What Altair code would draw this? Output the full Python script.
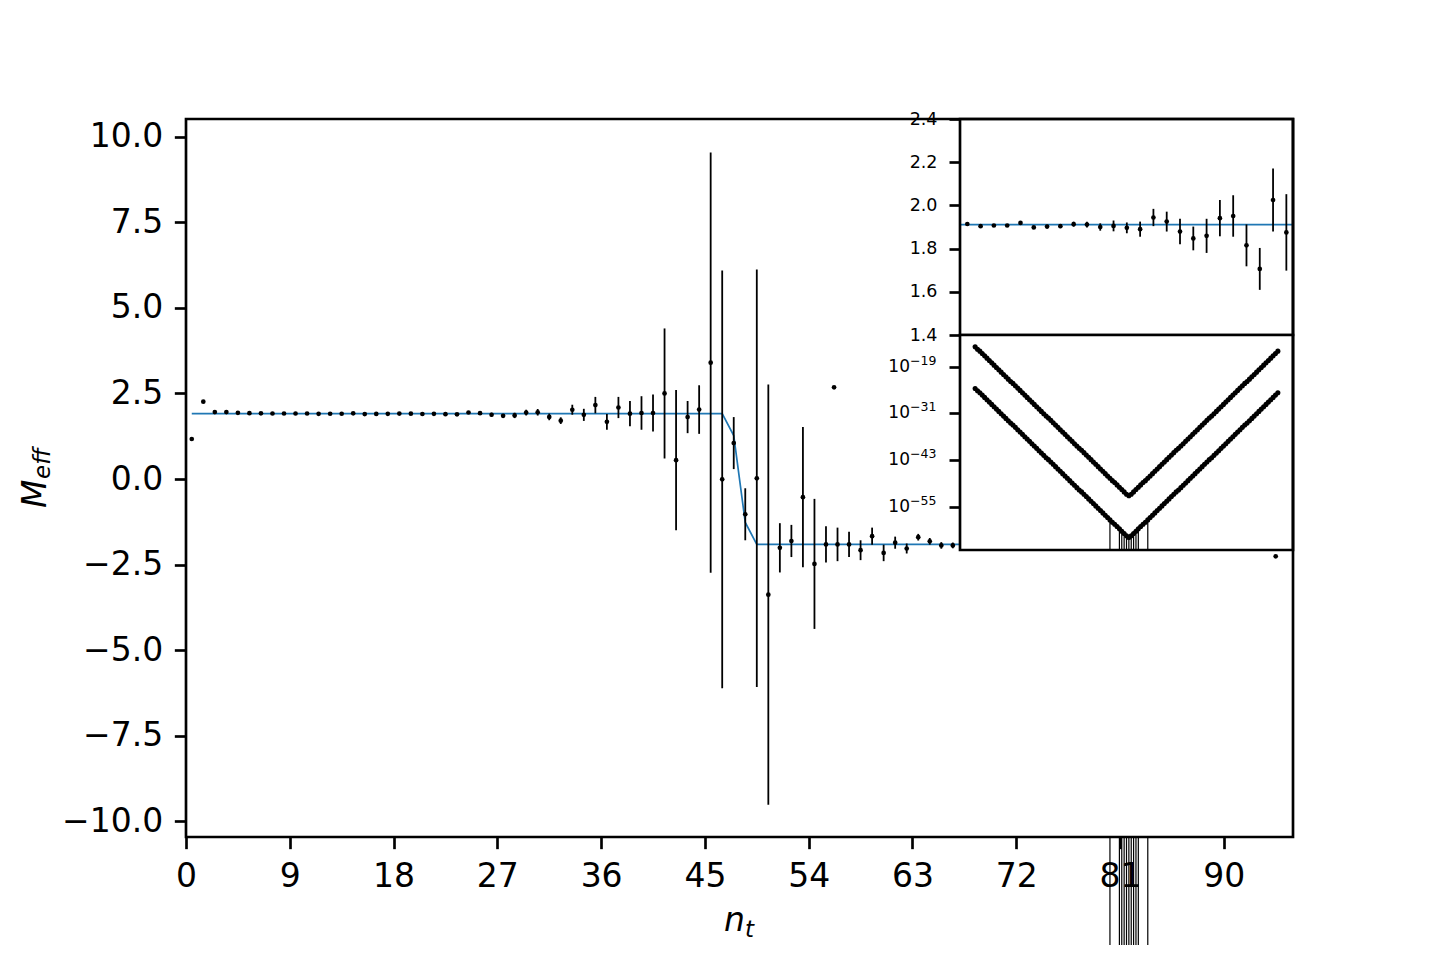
import altair as alt
import pandas as pd

# ---------------- data ----------------
# main panel: effective mass vs n_t (points sit at n_t + 0.5)
meff_val = [1.17, 2.26, 1.955, 1.955, 1.935, 1.925, 1.92, 1.915, 1.915, 1.915,
            1.914, 1.904, 1.907, 1.907, 1.919, 1.898, 1.902, 1.904, 1.913, 1.911,
            1.900, 1.905, 1.896, 1.890, 1.944, 1.925, 1.879, 1.847, 1.859, 1.941,
            1.951, 1.815, 1.706, 2.025, 1.875, 2.16, 1.67, 2.09, 1.91, 1.93,
            1.93, 2.50, 0.55, 1.81, 2.03, 3.40, -0.01, 1.05, -1.03, 0.02,
            -3.38, -2.01, -1.81, -0.53, -2.48, -1.91, -1.91, -1.91, -2.08, -1.67,
            -2.16, -1.86, -2.03, -1.70, -1.82, -1.94, -1.94, -1.859, -1.847, -1.879,
            -1.925, -1.944, -1.890, -1.896, -1.905, -1.900, -1.911, -1.913, -1.904, -1.902,
            -1.898, -1.919, -1.907, -1.907, -1.904, -1.914, -1.915, -1.915, -1.915, -1.92,
            -1.925, -1.935, -1.955, -1.955, -2.26, -1.17]
meff_err = [0.003, 0.004, 0.003, 0.003, 0.003, 0.003, 0.003, 0.003, 0.004, 0.004,
            0.004, 0.004, 0.004, 0.005, 0.006, 0.007, 0.008, 0.009, 0.0115, 0.013,
            0.017, 0.025, 0.025, 0.035, 0.040, 0.046, 0.059, 0.055, 0.079, 0.084,
            0.096, 0.097, 0.097, 0.146, 0.177, 0.24, 0.23, 0.31, 0.37, 0.49,
            0.54, 1.90, 2.05, 0.47, 0.71, 6.14, 6.10, 0.76, 0.76, 6.10,
            6.14, 0.72, 0.47, 2.05, 1.90, 0.53, 0.49, 0.37, 0.29, 0.25,
            0.24, 0.177, 0.146, 0.097, 0.097, 0.096, 0.084, 0.079, 0.055, 0.059,
            0.046, 0.040, 0.035, 0.025, 0.025, 0.017, 0.013, 0.0115, 0.009, 0.008,
            0.007, 0.006, 0.005, 0.004, 0.004, 0.004, 0.004, 0.004, 0.003, 0.003,
            0.003, 0.003, 0.003, 0.003, 0.004, 0.003]
fit_x = [0.5, 46.5, 47.5, 48.5, 49.5, 95.5]
fit_y = [1.911, 1.911, 1.27, -1.27, -1.911, -1.911]
stray_x = [56.2]          # inset marker that spills into the main panel
stray_y = [2.68]

x_ticks = [0, 9, 18, 27, 36, 45, 54, 63, 72, 81, 90]
y_ticks = [-10.0, -7.5, -5.0, -2.5, 0.0, 2.5, 5.0, 7.5, 10.0]

# inset 1: zoom on the plateau (points 10..34 of the main series)
inset1_first, inset1_last = 10, 34
inset1_ticks = [1.4, 1.6, 1.8, 2.0, 2.2, 2.4]

# inset 2: correlators, log10 values, t = 0..128
corr_upper_log = [
    -13.9, -14.5, -15.0, -15.6, -16.2, -16.8, -17.4, -18.0, -18.6, -19.2,
    -19.8, -20.4, -21.0, -21.6, -22.2, -22.8, -23.3, -23.9, -24.5, -25.1,
    -25.7, -26.3, -26.9, -27.5, -28.1, -28.7, -29.3, -29.9, -30.5, -31.1,
    -31.7, -32.2, -32.8, -33.4, -34.0, -34.6, -35.2, -35.8, -36.4, -37.0,
    -37.6, -38.2, -38.8, -39.4, -40.0, -40.5, -41.1, -41.7, -42.3, -42.9,
    -43.5, -44.1, -44.7, -45.3, -45.9, -46.5, -47.1, -47.7, -48.3, -48.8,
    -49.4, -50.0, -50.6, -51.2, -51.8, -52.2,
    -51.8, -51.2, -50.6, -50.0, -49.4, -48.8, -48.3, -47.7, -47.1, -46.5,
    -45.9, -45.3, -44.7, -44.1, -43.5, -42.9, -42.3, -41.7, -41.1, -40.5,
    -40.0, -39.4, -38.8, -38.2, -37.6, -37.0, -36.4, -35.8, -35.2, -34.6,
    -34.0, -33.4, -32.8, -32.2, -31.7, -31.1, -30.5, -29.9, -29.3, -28.7,
    -28.1, -27.5, -26.9, -26.3, -25.7, -25.1, -24.5, -23.9, -23.3, -22.8,
    -22.2, -21.6, -21.0, -20.4, -19.8, -19.2, -18.6, -18.0, -17.4, -16.8,
    -16.2, -15.6, -15.0]
corr_lower_log = [
    -24.6, -25.2, -25.7, -26.3, -26.9, -27.5, -28.1, -28.7, -29.3, -29.9,
    -30.5, -31.1, -31.7, -32.3, -32.9, -33.5, -34.0, -34.6, -35.2, -35.8,
    -36.4, -37.0, -37.6, -38.2, -38.8, -39.4, -40.0, -40.6, -41.2, -41.8,
    -42.4, -42.9, -43.5, -44.1, -44.7, -45.3, -45.9, -46.5, -47.1, -47.7,
    -48.3, -48.9, -49.5, -50.1, -50.7, -51.2, -51.8, -52.4, -53.0, -53.6,
    -54.2, -54.8, -55.4, -56.0, -56.6, -57.2, -57.8, -58.4, -59.0, -59.5,
    -60.1, -60.7, -61.3, -61.9, -62.5, -62.9,
    -62.5, -61.9, -61.3, -60.7, -60.1, -59.5, -59.0, -58.4, -57.8, -57.2,
    -56.6, -56.0, -55.4, -54.8, -54.2, -53.6, -53.0, -52.4, -51.8, -51.2,
    -50.7, -50.1, -49.5, -48.9, -48.3, -47.7, -47.1, -46.5, -45.9, -45.3,
    -44.7, -44.1, -43.5, -42.9, -42.4, -41.8, -41.2, -40.6, -40.0, -39.4,
    -38.8, -38.2, -37.6, -37.0, -36.4, -35.8, -35.2, -34.6, -34.0, -33.5,
    -32.9, -32.3, -31.7, -31.1, -30.5, -29.9, -29.3, -28.7, -28.1, -27.5,
    -26.9, -26.3, -25.7]
eb_t = [57, 61, 62, 63, 64, 65, 66, 67, 68, 69, 73]
eb_err_log = [-58.1, -60.4, -61.0, -61.6, -62.2, -62.6, -62.2, -61.6, -61.0, -60.4, -58.1]
log_tick_exp = [-19, -31, -43, -55]

# ---------------- layout / style ----------------
W, H = 1107, 718
X_DOM = [0, 96]
Y_DOM = [-10.46, 10.52]
IN_X0 = 774
IN1_XDOM = [9.95, 35.0]
IN1_YDOM = [1.4, 2.4]
IN1_YR = [216, 0]
IN2_XDOM = [-6.4, 134.4]
IN2_YDOM = [10 ** -66.14, 10 ** -10.85]
IN2_YR = [431, 216]
FONT = "DejaVu Sans"
BLUE = "#1f77b4"
ORANGE = "#ff7f0e"
LW = 2.67
DOT = 22
EBW = 1.8

# ---------------- frames ----------------
main_df = pd.DataFrame({
    "x": [i + 0.5 for i in range(len(meff_val))],
    "y": meff_val,
    "err": meff_err,
})
main_df["lo"] = main_df["y"] - main_df["err"]
main_df["hi"] = main_df["y"] + main_df["err"]
fit_df = pd.DataFrame({"x": fit_x, "y": fit_y})
stray_df = pd.DataFrame({"x": stray_x, "y": stray_y})


def box(xd, yd):
    return pd.DataFrame({"x0": [xd[0]], "x1": [xd[1]], "y0": [yd[0]], "y1": [yd[1]]})


# ---------------- main panel ----------------
xs = alt.Scale(domain=X_DOM, nice=False, zero=False)
ys = alt.Scale(domain=Y_DOM, nice=False, zero=False)
ax_x = alt.Axis(values=x_ticks, title=None, domain=False, grid=False, format="d",
                tickSize=11.67, tickWidth=LW, tickColor="black",
                labelFont=FONT, labelFontSize=33, labelColor="black",
                labelPadding=11.67, labelFlush=False, orient="bottom")
ax_y = alt.Axis(values=y_ticks, title=None, domain=False, grid=False, format=".1f",
                tickSize=11.67, tickWidth=LW, tickColor="black",
                labelFont=FONT, labelFontSize=33, labelColor="black",
                labelPadding=11.67, labelFlush=False, orient="left")

main_bg = alt.Chart(box(X_DOM, Y_DOM)).mark_rect(color="white").encode(
    x=alt.X("x0:Q", scale=xs, axis=ax_x), x2="x1:Q",
    y=alt.Y("y0:Q", scale=ys, axis=ax_y), y2="y1:Q")
main_line = alt.Chart(fit_df).mark_line(color=BLUE, strokeWidth=1.7).encode(
    x=alt.X("x:Q", scale=xs, axis=ax_x), y=alt.Y("y:Q", scale=ys, axis=ax_y))
main_err = alt.Chart(main_df).mark_rule(color="black", strokeWidth=EBW).encode(
    x=alt.X("x:Q", scale=xs, axis=ax_x),
    y=alt.Y("lo:Q", scale=ys, axis=ax_y), y2="hi:Q")
main_pts = alt.Chart(main_df).mark_circle(color="black", size=DOT, opacity=1).encode(
    x=alt.X("x:Q", scale=xs, axis=ax_x), y=alt.Y("y:Q", scale=ys, axis=ax_y))
stray_pts = alt.Chart(stray_df).mark_circle(color="black", size=DOT, opacity=1).encode(
    x=alt.X("x:Q", scale=xs, axis=ax_x), y=alt.Y("y:Q", scale=ys, axis=ax_y))
main_layer = alt.layer(main_bg, main_line, main_err, main_pts, stray_pts)

# ---------------- inset 1 ----------------
in1_df = main_df.iloc[inset1_first:inset1_last + 1]
in1_fit = fit_df[fit_df["y"] > 1.5]
xs1 = alt.Scale(domain=IN1_XDOM, range=[IN_X0, W], nice=False, zero=False, clamp=True)
ys1 = alt.Scale(domain=IN1_YDOM, range=IN1_YR, nice=False, zero=False)
ax_y1 = alt.Axis(values=inset1_ticks, format=".1f", title=None, domain=False, grid=False,
                 orient="left", offset=-IN_X0, tickSize=11, tickWidth=LW, tickColor="black",
                 labelFont=FONT, labelFontSize=17.5, labelColor="black", labelPadding=12,
                 labelFlush=False, zindex=1)
in1_bg = alt.Chart(box(IN1_XDOM, IN1_YDOM)).mark_rect(color="white").encode(
    x=alt.X("x0:Q", scale=xs1, axis=None), x2="x1:Q",
    y=alt.Y("y0:Q", scale=ys1, axis=ax_y1), y2="y1:Q")
in1_line = alt.Chart(in1_fit).mark_line(color=BLUE, strokeWidth=1.7).encode(
    x=alt.X("x:Q", scale=xs1, axis=None), y=alt.Y("y:Q", scale=ys1, axis=ax_y1))
in1_err = alt.Chart(in1_df).mark_rule(color="black", strokeWidth=EBW).encode(
    x=alt.X("x:Q", scale=xs1, axis=None),
    y=alt.Y("lo:Q", scale=ys1, axis=ax_y1), y2="hi:Q")
in1_pts = alt.Chart(in1_df).mark_circle(color="black", size=DOT, opacity=1).encode(
    x=alt.X("x:Q", scale=xs1, axis=None), y=alt.Y("y:Q", scale=ys1, axis=ax_y1))
in1_frame = alt.Chart(box(IN1_XDOM, IN1_YDOM)).mark_rect(
    filled=False, stroke="black", strokeWidth=LW).encode(
    x=alt.X("x0:Q", scale=xs1, axis=None), x2="x1:Q",
    y=alt.Y("y0:Q", scale=ys1, axis=ax_y1), y2="y1:Q")
inset1_layer = alt.layer(in1_bg, in1_line, in1_err, in1_pts, in1_frame)

# ---------------- inset 2 ----------------
corr_t = list(range(len(corr_upper_log)))
up_df = pd.DataFrame({"t": corr_t, "c": [10 ** v for v in corr_upper_log]})
lo_df = pd.DataFrame({"t": corr_t, "c": [10 ** v for v in corr_lower_log]})
eb_rows = []
for t, e in zip(eb_t, eb_err_log):
    c = 10 ** corr_lower_log[t]
    err = 10 ** e
    low = c - err
    eb_rows.append({"t": t, "hi": c + err, "lo": low if low > 0 else 1e-300})
eb_df = pd.DataFrame(eb_rows)

# log tick labels: "10" with a raised exponent
lab_df = pd.DataFrame({
    "v": [10.0 ** e for e in log_tick_exp],
    "base": ["10"] * len(log_tick_exp),
    "exp": [str(e).replace("-", "\u2212") for e in log_tick_exp],
})
log_vals = [10.0 ** e for e in log_tick_exp]

xs2 = alt.Scale(domain=IN2_XDOM, range=[IN_X0, W], nice=False, zero=False)
ys2 = alt.Scale(type="log", domain=IN2_YDOM, range=IN2_YR, nice=False, clamp=True)
ys2_free = alt.Scale(type="log", domain=IN2_YDOM, range=IN2_YR, nice=False)
ax_y2 = alt.Axis(values=log_vals, labels=False, title=None, domain=False, grid=False,
                 orient="left", offset=-IN_X0, tickSize=11, tickWidth=LW, tickColor="black",
                 zindex=1)

# error bars of inset 2 run past its frame down the page (drawn first, main bg hides part)
overflow = alt.Chart(eb_df).mark_rule(color="black", strokeWidth=1.2).encode(
    x=alt.X("t:Q", scale=xs2, axis=None),
    y=alt.Y("lo:Q", scale=ys2_free, axis=None), y2="hi:Q")

in2_bg = alt.Chart(box(IN2_XDOM, IN2_YDOM)).mark_rect(color="white").encode(
    x=alt.X("x0:Q", scale=xs2, axis=None), x2="x1:Q",
    y=alt.Y("y0:Q", scale=ys2, axis=ax_y2), y2="y1:Q")
in2_fit_up = alt.Chart(up_df).mark_line(color=ORANGE, strokeWidth=1.7).encode(
    x=alt.X("t:Q", scale=xs2, axis=None), y=alt.Y("c:Q", scale=ys2, axis=ax_y2))
in2_fit_lo = alt.Chart(lo_df).mark_line(color=BLUE, strokeWidth=1.7).encode(
    x=alt.X("t:Q", scale=xs2, axis=None), y=alt.Y("c:Q", scale=ys2, axis=ax_y2))
in2_err = alt.Chart(eb_df).mark_rule(color="black", strokeWidth=1.2).encode(
    x=alt.X("t:Q", scale=xs2, axis=None),
    y=alt.Y("lo:Q", scale=ys2, axis=ax_y2), y2="hi:Q")
in2_up = alt.Chart(up_df).mark_circle(color="black", size=26, opacity=1).encode(
    x=alt.X("t:Q", scale=xs2, axis=None), y=alt.Y("c:Q", scale=ys2, axis=ax_y2))
in2_lo = alt.Chart(lo_df).mark_circle(color="black", size=26, opacity=1).encode(
    x=alt.X("t:Q", scale=xs2, axis=None), y=alt.Y("c:Q", scale=ys2, axis=ax_y2))
in2_frame = alt.Chart(box(IN2_XDOM, IN2_YDOM)).mark_rect(
    filled=False, stroke="black", strokeWidth=LW).encode(
    x=alt.X("x0:Q", scale=xs2, axis=None), x2="x1:Q",
    y=alt.Y("y0:Q", scale=ys2, axis=ax_y2), y2="y1:Q")
in2_base = alt.Chart(lab_df).mark_text(
    font=FONT, fontSize=17, color="black", align="right", baseline="middle").encode(
    x=alt.value(IN_X0 - 50), y=alt.Y("v:Q", scale=ys2, axis=ax_y2), text="base:N")
in2_exp = alt.Chart(lab_df).mark_text(
    font=FONT, fontSize=12.5, color="black", align="left", baseline="middle", dy=-6).encode(
    x=alt.value(IN_X0 - 50), y=alt.Y("v:Q", scale=ys2, axis=ax_y2), text="exp:N")
inset2_layer = alt.layer(in2_bg, in2_fit_up, in2_fit_lo, in2_err, in2_up, in2_lo, in2_frame,
                         in2_base, in2_exp)

# ---------------- main frame + axis titles ----------------
xs_f = alt.Scale(domain=X_DOM, nice=False, zero=False)
ys_f = alt.Scale(domain=Y_DOM, nice=False, zero=False)
frame = alt.Chart(box(X_DOM, Y_DOM)).mark_rect(
    filled=False, stroke="black", strokeWidth=LW).encode(
    x=alt.X("x0:Q", scale=xs_f, axis=None), x2="x1:Q",
    y=alt.Y("y0:Q", scale=ys_f, axis=None), y2="y1:Q")
one = pd.DataFrame({"k": [0]})


def label(txt, x, y, size, angle=0):
    return alt.Chart(one).mark_text(
        text=txt, font=FONT, fontSize=size, fontStyle="italic", color="black",
        align="left", baseline="alphabetic", angle=angle).encode(
        x=alt.value(x), y=alt.value(y))


titles = [
    label("M", -140, 389, 33, 270),
    label("eff", -136, 360, 23, 270),
    label("n", 538, 812, 33),
    label("t", 559, 818, 23),
]
top_layer = alt.layer(frame, *titles)

chart = alt.layer(overflow, main_layer, inset1_layer, inset2_layer, top_layer).resolve_scale(
    x="independent", y="independent"
).properties(
    width=W, height=H,
    autosize=alt.AutoSizeParams(type="none"),
    padding={"left": 178, "top": 111, "right": 100, "bottom": 108},
    background="white",
).configure_view(strokeWidth=0)

chart.save("out.html", embed_options={"renderer": "svg", "actions": False})
